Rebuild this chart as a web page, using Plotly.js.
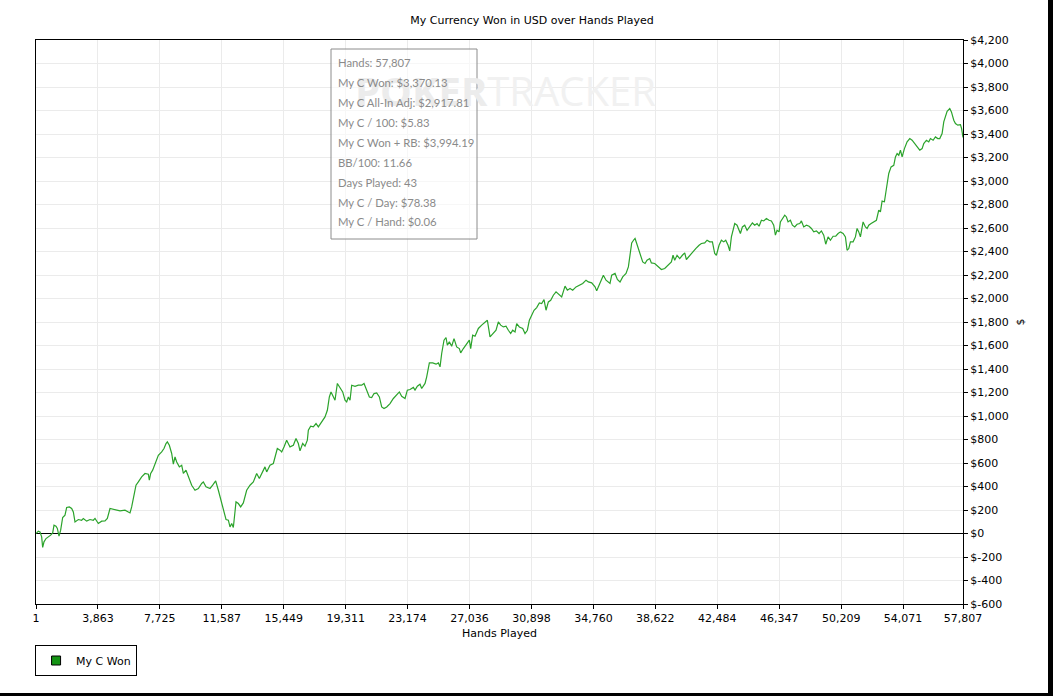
<!DOCTYPE html>
<html>
<head>
<meta charset="utf-8">
<script src="https://cdn.plot.ly/plotly-3.0.1.min.js"></script>
<style>html,body{margin:0;padding:0;background:#fff;}#chart{width:1053px;height:696px;}</style>
</head>
<body>
<div id="chart"></div>
<script>
// ---- data ----
const hands = [1,146,250,354,417,500,625,770,916,1041,1124,1248,1331,1435,1539,1664,1809,1913,2080,2225,2329,2433,2641,2849,2953,3161,3369,3576,3680,3888,4096,4304,4449,4616,4823,5031,5239,5551,5759,5863,5967,6112,6237,6383,6590,6798,7006,7068,7152,7276,7422,7630,7838,7983,8108,8191,8316,8462,8566,8670,8774,8940,9086,9190,9355,9501,9709,9916,10124,10332,10436,10602,10852,11018,11205,11372,11580,11725,11850,11995,12099,12203,12307,12473,12619,12764,12930,13138,13346,13554,13762,13928,14073,14281,14385,14593,14801,14905,15050,15217,15321,15466,15632,15840,16048,16214,16360,16464,16630,16776,16921,16984,17129,17295,17462,17607,17815,18023,18169,18293,18397,18543,18647,18793,18959,19125,19271,19375,19479,19583,19687,19895,20103,20311,20456,20622,20789,20934,21080,21246,21412,21558,21703,21870,22077,22285,22493,22659,22805,23013,23158,23324,23532,23636,23782,23948,24052,24260,24364,24530,24738,24946,25091,25195,25299,25444,25569,25652,25777,25922,26068,26234,26400,26484,26650,26858,27024,27107,27232,27378,27585,27793,28001,28147,28313,28521,28687,28833,28978,29145,29311,29456,29602,29726,29872,29976,30142,30350,30495,30641,30766,30911,31057,31223,31389,31535,31680,31805,31951,32096,32262,32429,32637,32782,32990,33136,33302,33468,33676,33884,34092,34299,34445,34653,34861,34965,35069,35214,35381,35547,35692,35796,35900,36108,36254,36420,36587,36794,36940,37044,37148,37293,37356,37460,37564,37668,37834,37979,38104,38271,38375,38583,38791,38999,39206,39414,39622,39726,39830,39976,40142,40308,40454,40558,40766,40974,41140,41348,41493,41701,41847,42013,42180,42325,42429,42595,42741,42886,43011,43157,43261,43365,43469,43573,43718,43843,43926,44051,44196,44342,44508,44674,44820,44965,45090,45236,45381,45547,45713,45859,46004,46108,46212,46337,46420,46587,46691,46795,46899,47044,47169,47315,47460,47627,47731,47876,48043,48209,48354,48500,48666,48832,48978,49123,49248,49394,49539,49706,49872,50018,50163,50330,50475,50579,50683,50787,50953,51098,51202,51306,51410,51577,51722,51826,51930,52076,52242,52408,52554,52658,52762,52907,53032,53178,53323,53490,53594,53698,53802,53906,54010,54155,54321,54488,54633,54779,54945,55111,55257,55361,55527,55672,55776,55943,56088,56234,56358,56504,56608,56712,56816,56982,57086,57232,57336,57481,57648,57720,57807];
const wonUSD = [0,20,14,-29,-119,-71,-43,-29,-14,5,71,62,43,-23,28,136,156,221,226,213,184,99,119,113,128,105,119,113,128,85,105,107,128,213,204,198,192,198,184,175,226,311,411,439,482,511,505,454,511,539,596,666,694,723,766,780,751,681,590,652,609,567,581,511,539,482,411,368,383,426,439,397,383,411,448,368,255,184,119,113,56,85,51,269,255,226,260,368,411,439,511,468,511,567,524,581,596,652,723,709,694,737,794,737,751,808,766,703,766,743,794,879,913,907,936,907,950,992,1049,1162,1205,1162,1134,1277,1243,1205,1134,1120,1162,1134,1262,1253,1262,1262,1277,1220,1162,1157,1191,1197,1162,1077,1063,1077,1106,1149,1177,1205,1168,1149,1220,1225,1243,1220,1253,1271,1234,1277,1333,1452,1452,1441,1452,1418,1532,1645,1668,1602,1631,1594,1659,1588,1574,1537,1574,1611,1645,1574,1688,1679,1745,1773,1801,1815,1673,1702,1730,1801,1773,1758,1764,1730,1702,1730,1716,1787,1758,1745,1702,1730,1815,1858,1900,1923,1962,1957,1991,1900,1971,1985,2028,2056,2028,2014,2105,2071,2085,2071,2099,2113,2128,2156,2141,2133,2099,2065,2099,2156,2198,2156,2141,2128,2198,2213,2162,2141,2184,2213,2269,2383,2473,2502,2511,2468,2425,2383,2311,2298,2326,2340,2303,2298,2275,2247,2255,2283,2311,2368,2326,2368,2340,2368,2388,2332,2368,2396,2425,2453,2468,2473,2496,2482,2482,2383,2368,2453,2496,2482,2496,2453,2405,2524,2596,2638,2624,2587,2553,2609,2624,2581,2609,2643,2624,2638,2615,2666,2660,2681,2666,2660,2624,2539,2581,2567,2652,2694,2709,2694,2652,2666,2624,2609,2632,2638,2660,2609,2624,2615,2596,2567,2575,2553,2575,2539,2462,2524,2496,2530,2530,2553,2567,2553,2524,2411,2425,2482,2482,2524,2596,2567,2524,2652,2609,2596,2624,2638,2652,2666,2752,2738,2829,2823,2936,3064,3120,3134,3205,3234,3219,3262,3205,3276,3333,3361,3347,3319,3290,3262,3276,3319,3347,3333,3361,3347,3375,3361,3361,3404,3503,3560,3594,3617,3588,3517,3489,3475,3480,3446,3370.13];

const xTickVals = [1,3863,7725,11587,15449,19311,23174,27036,30898,34760,38622,42484,46347,50209,54071,57807];
const xTickText = ['1','3,863','7,725','11,587','15,449','19,311','23,174','27,036','30,898','34,760','38,622','42,484','46,347','50,209','54,071','57,807'];
const yTickVals = [-600,-400,-200,0,200,400,600,800,1000,1200,1400,1600,1800,2000,2200,2400,2600,2800,3000,3200,3400,3600,3800,4000,4200];
const yTickText = ['$-600','$-400','$-200','$0','$200','$400','$600','$800','$1,000','$1,200','$1,400','$1,600','$1,800','$2,000','$2,200','$2,400','$2,600','$2,800','$3,000','$3,200','$3,400','$3,600','$3,800','$4,000','$4,200'];

const seriesName = 'My C Won';
const chartTitle = 'My Currency Won in USD over Hands Played';
const xTitle = 'Hands Played';
const yTitle = '$';
const statLines = ['Hands: 57,807','My C Won: $3,370.13','My C All-In Adj: $2,917.81','My C / 100: $5.83','My C Won + RB: $3,994.19','BB/100: 11.66','Days Played: 43','My C / Day: $78.38','My C / Hand: $0.06'];

// ---- chart ----
const FONT = 'DejaVu Sans, Verdana, sans-serif';
const traces = [
  {x: hands, y: wonUSD, type: 'scatter', mode: 'lines', name: seriesName, showlegend: false,
   line: {color: '#2ba32b', width: 1.2}, hoverinfo: 'skip'},
  {x: [null], y: [null], type: 'scatter', mode: 'markers', name: seriesName, showlegend: true,
   marker: {symbol: 'square', size: 9, color: '#149414', line: {color: '#000', width: 1}}}
];

const annotations = [
  {xref: 'paper', yref: 'paper', x: 0.507, y: 0.911, xanchor: 'center', yanchor: 'middle', showarrow: false,
   text: '<span style="color:#ececec"><b>POKER</b></span><span style="color:#f1f1f1">TRACKER</span>',
   font: {family: 'Open Sans, sans-serif', size: 40, color: '#f0f0f0'}}
];
statLines.forEach((t, i) => {
  annotations.push({xref: 'paper', yref: 'paper', x: (336 - 36) / 927, y: (604 - 62 - 20 * i) / 564,
    xanchor: 'left', yanchor: 'middle', showarrow: false, text: t,
    font: {family: 'Lato, sans-serif', size: 11.3, color: '#8a8a8a'}});
});

const layout = {
  width: 1053, height: 696,
  margin: {l: 36, r: 90, t: 40, b: 92, pad: 0},
  paper_bgcolor: '#ffffff', plot_bgcolor: '#ffffff',
  font: {family: FONT, size: 11, color: '#000'},
  title: {text: chartTitle, x: 532 / 1053, xref: 'container', xanchor: 'center', y: 1 - 20 / 696, yref: 'container', yanchor: 'middle',
          font: {family: FONT, size: 11, color: '#000'}},
  xaxis: {range: [1, 57807], tickmode: 'array', tickvals: xTickVals, ticktext: xTickText,
          showgrid: true, gridcolor: '#ebebeb', gridwidth: 1, zeroline: false,
          showline: true, linecolor: '#000', linewidth: 1, mirror: true,
          ticks: 'outside', ticklen: 4, tickcolor: '#000', tickfont: {family: FONT, size: 11, color: '#000'},
          title: {text: xTitle, standoff: 5, font: {family: FONT, size: 11, color: '#000'}}, automargin: false, fixedrange: true},
  yaxis: {side: 'right', range: [-600, 4200], tickmode: 'array', tickvals: yTickVals, ticktext: yTickText,
          showgrid: true, gridcolor: '#ebebeb', gridwidth: 1,
          zeroline: true, zerolinecolor: '#000', zerolinewidth: 1,
          showline: true, linecolor: '#000', linewidth: 1, mirror: true,
          ticks: 'outside', ticklen: 4, tickcolor: '#000', tickfont: {family: FONT, size: 11, color: '#000'},
          title: {text: yTitle, standoff: 8, font: {family: FONT, size: 11, color: '#000'}}, automargin: false, fixedrange: true},
  showlegend: true,
  legend: {x: -0.001, xanchor: 'left', y: (604 - 645) / 564, yanchor: 'top', orientation: 'h',
           bgcolor: '#ffffff', bordercolor: '#000', borderwidth: 1, itemwidth: 30,
           font: {family: FONT, size: 11, color: '#000'}},
  shapes: [
    {type: 'rect', xref: 'paper', yref: 'paper', x0: (331 - 36) / 927, x1: (477 - 36) / 927, y0: (604 - 239) / 564, y1: (604 - 49) / 564,
     line: {color: '#8c8c8c', width: 1}, fillcolor: 'rgba(255,255,255,0.6)', layer: 'above'},
    {type: 'rect', xref: 'paper', yref: 'paper', x0: (1048 - 36) / 927, x1: (1056 - 36) / 927, y0: (604 - 700) / 564, y1: (604 + 4) / 564,
     line: {width: 0}, fillcolor: '#000', layer: 'above'},
    {type: 'rect', xref: 'paper', yref: 'paper', x0: (-4 - 36) / 927, x1: (1056 - 36) / 927, y0: (604 - 700) / 564, y1: (604 - 693) / 564,
     line: {width: 0}, fillcolor: '#000', layer: 'above'}
  ],
  annotations: annotations
};

Plotly.newPlot('chart', traces, layout, {displayModeBar: false, staticPlot: true});
</script>
</body>
</html>
